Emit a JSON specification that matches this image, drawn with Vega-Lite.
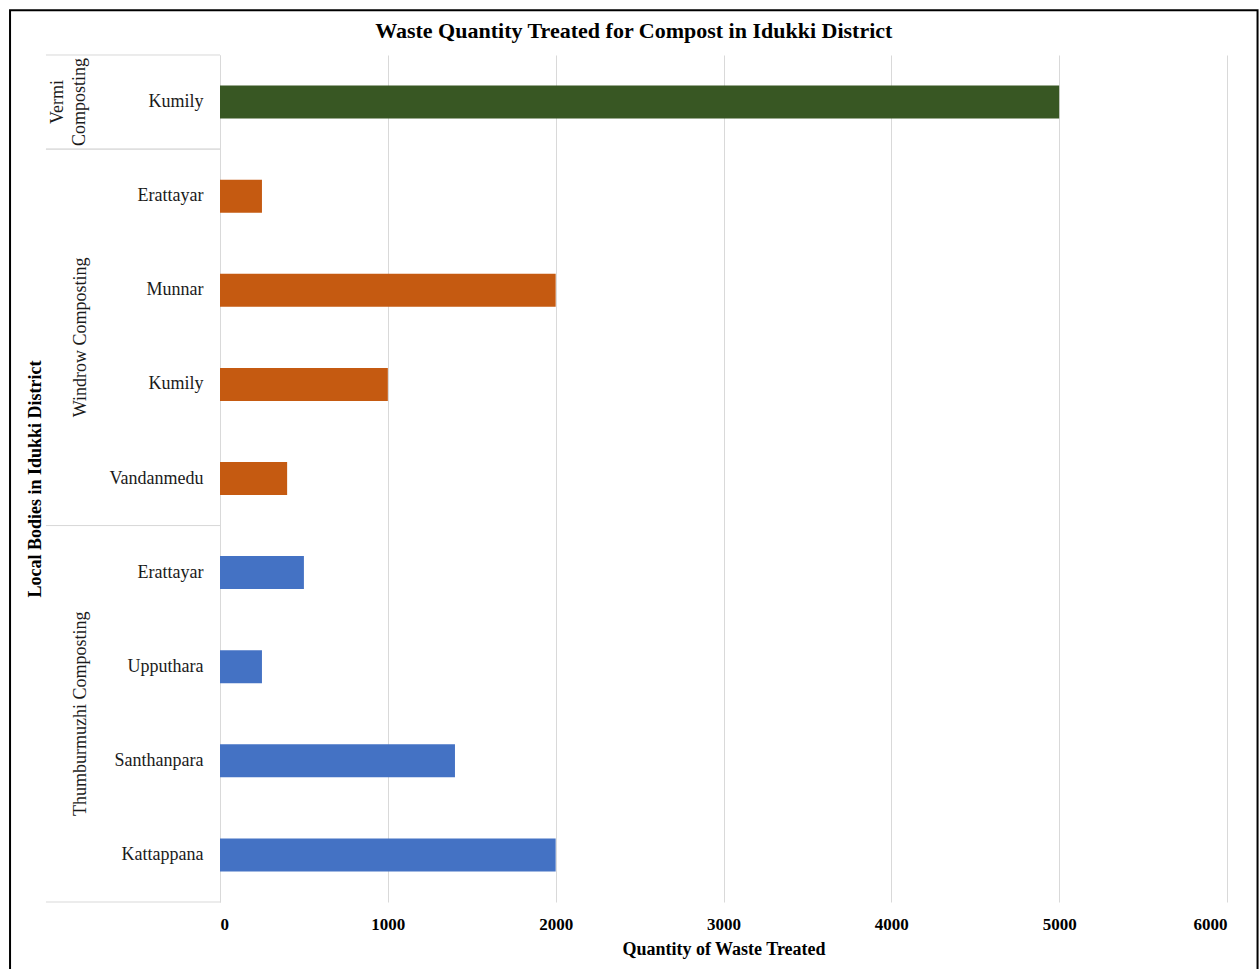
{
  "$schema": "https://vega.github.io/schema/vega-lite/v6.json",
  "width": 1007,
  "height": 847,
  "autosize": {"type": "none"},
  "padding": {"left": 220, "top": 55, "right": 32, "bottom": 67},
  "background": "white",
  "config": {
    "font": "Liberation Serif",
    "view": {"stroke": null}
  },
  "title": {
    "text": "Waste Quantity Treated for Compost in Idukki District",
    "font": "Liberation Serif",
    "fontSize": 22,
    "fontWeight": "bold",
    "color": "black",
    "anchor": "middle",
    "frame": "bounds",
    "baseline": "alphabetic",
    "offset": -51
  },
  "data": {
    "values": [
      {"group": "Vermi\nComposting", "place": "Kumily", "row": 0, "value": 5000},
      {"group": "Windrow Composting", "place": "Erattayar", "row": 1, "value": 250},
      {"group": "Windrow Composting", "place": "Munnar", "row": 2, "value": 2000},
      {"group": "Windrow Composting", "place": "Kumily", "row": 3, "value": 1000},
      {"group": "Windrow Composting", "place": "Vandanmedu", "row": 4, "value": 400},
      {"group": "Thumburmuzhi Composting", "place": "Erattayar", "row": 5, "value": 500},
      {"group": "Thumburmuzhi Composting", "place": "Upputhara", "row": 6, "value": 250},
      {"group": "Thumburmuzhi Composting", "place": "Santhanpara", "row": 7, "value": 1400},
      {"group": "Thumburmuzhi Composting", "place": "Kattappana", "row": 8, "value": 2000}
    ]
  },
  "layer": [
    {
      "mark": {"type": "bar", "orient": "horizontal", "size": 33},
      "encoding": {
        "x": {
          "field": "value",
          "type": "quantitative",
          "stack": null,
          "scale": {"domain": [0, 6000], "nice": false, "zero": true, "padding": 0},
          "axis": {
            "title": "Quantity of Waste Treated",
            "values": [0, 1000, 2000, 3000, 4000, 5000, 6000],
            "format": "d",
            "grid": true,
            "gridColor": "#d9d9d9",
            "gridWidth": 1,
            "domain": false,
            "ticks": false,
            "tickSize": 0,
            "labelFont": "Liberation Serif",
            "labelFontSize": 17,
            "labelFontWeight": "bold",
            "labelColor": "black",
            "labelBaseline": "alphabetic",
            "labelPadding": 27,
            "titleFont": "Liberation Serif",
            "titleFontSize": 18,
            "titleFontWeight": "bold",
            "titleColor": "black",
            "titleBaseline": "alphabetic",
            "titlePadding": 22
          }
        },
        "y": {
          "field": "row",
          "type": "quantitative",
          "scale": {"domain": [-0.5, 8.5], "nice": false, "zero": false, "reverse": true, "padding": 0},
          "axis": {
            "title": "Local Bodies in Idukki District",
            "labels": false,
            "ticks": false,
            "tickSize": 0,
            "grid": false,
            "domain": true,
            "domainColor": "#d9d9d9",
            "domainWidth": 1,
            "titleFont": "Liberation Serif",
            "titleFontSize": 18,
            "titleFontWeight": "bold",
            "titleColor": "black",
            "titleBaseline": "alphabetic",
            "titlePadding": 180
          }
        },
        "color": {
          "field": "group",
          "type": "nominal",
          "scale": {
            "domain": ["Vermi\nComposting", "Windrow Composting", "Thumburmuzhi Composting"],
            "range": ["#385723", "#c55a11", "#4472c4"]
          },
          "legend": null
        }
      }
    },
    {
      "mark": {"type": "text", "align": "right", "baseline": "middle", "fontSize": 18, "color": "#1a1a1a", "font": "Liberation Serif"},
      "encoding": {
        "x": {"datum": -98, "type": "quantitative", "scale": {"domain": [0, 6000], "nice": false, "padding": 0}},
        "y": {"field": "row", "type": "quantitative", "scale": {"domain": [-0.5, 8.5], "nice": false, "zero": false, "reverse": true, "padding": 0}},
        "text": {"field": "place"}
      }
    },
    {
      "transform": [
        {"aggregate": [{"op": "mean", "field": "row", "as": "mid"}], "groupby": ["group"]},
        {"filter": "indexof(datum.group, '\\n') < 0"}
      ],
      "mark": {"type": "text", "align": "center", "baseline": "bottom", "angle": 270, "fontSize": 18, "lineHeight": 22, "lineBreak": "\n", "color": "#1a1a1a", "font": "Liberation Serif"},
      "encoding": {
        "x": {"datum": -776, "type": "quantitative", "scale": {"domain": [0, 6000], "nice": false, "padding": 0}},
        "y": {"field": "mid", "type": "quantitative", "scale": {"domain": [-0.5, 8.5], "nice": false, "zero": false, "reverse": true, "padding": 0}},
        "text": {"field": "group"}
      }
    },
    {
      "transform": [
        {"aggregate": [{"op": "mean", "field": "row", "as": "mid"}], "groupby": ["group"]},
        {"filter": "indexof(datum.group, '\\n') >= 0"}
      ],
      "mark": {"type": "text", "align": "center", "baseline": "bottom", "angle": 270, "fontSize": 18, "lineHeight": 22, "lineBreak": "\n", "color": "#1a1a1a", "font": "Liberation Serif"},
      "encoding": {
        "x": {"datum": -913, "type": "quantitative", "scale": {"domain": [0, 6000], "nice": false, "padding": 0}},
        "y": {"field": "mid", "type": "quantitative", "scale": {"domain": [-0.5, 8.5], "nice": false, "zero": false, "reverse": true, "padding": 0}},
        "text": {"field": "group"}
      }
    },
    {
      "transform": [{"aggregate": [{"op": "min", "field": "row", "as": "lo"}], "groupby": ["group"]}],
      "mark": {"type": "rule", "color": "#d9d9d9", "strokeWidth": 1, "yOffset": -47.06},
      "encoding": {
        "x": {"datum": -1037, "type": "quantitative", "scale": {"domain": [0, 6000], "nice": false, "padding": 0}},
        "x2": {"datum": 0},
        "y": {"field": "lo", "type": "quantitative", "scale": {"domain": [-0.5, 8.5], "nice": false, "zero": false, "reverse": true, "padding": 0}}
      }
    },
    {
      "transform": [{"aggregate": [{"op": "max", "field": "row", "as": "hi"}], "groupby": ["group"]}],
      "mark": {"type": "rule", "color": "#d9d9d9", "strokeWidth": 1, "yOffset": 47.06},
      "encoding": {
        "x": {"datum": -1037, "type": "quantitative", "scale": {"domain": [0, 6000], "nice": false, "padding": 0}},
        "x2": {"datum": 0},
        "y": {"field": "hi", "type": "quantitative", "scale": {"domain": [-0.5, 8.5], "nice": false, "zero": false, "reverse": true, "padding": 0}}
      }
    },
    {
      "data": {"values": [{"frame": "border"}]},
      "mark": {"type": "rect", "filled": false, "stroke": "black", "strokeWidth": 2},
      "encoding": {
        "x": {"datum": -1251, "type": "quantitative", "scale": {"domain": [0, 6000], "nice": false, "padding": 0}},
        "x2": {"datum": 6182},
        "y": {"datum": -0.975, "type": "quantitative", "scale": {"domain": [-0.5, 8.5], "nice": false, "zero": false, "reverse": true, "padding": 0}},
        "y2": {"datum": 9.244}
      }
    }
  ]
}
